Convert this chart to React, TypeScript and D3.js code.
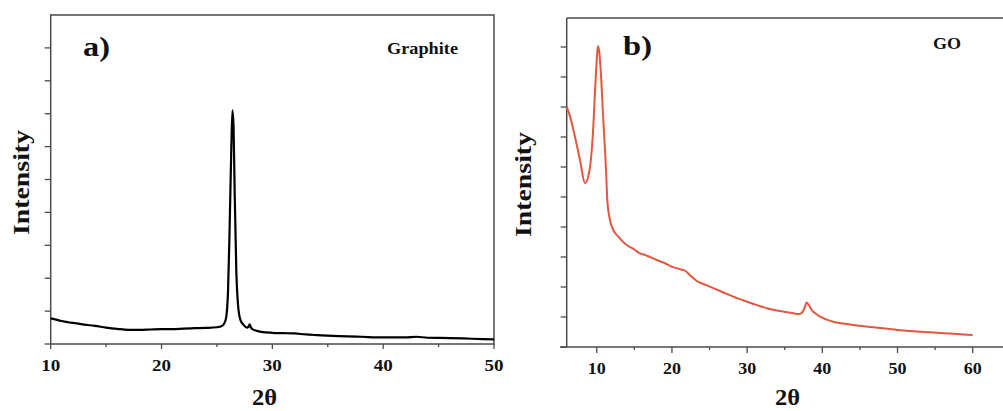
import React from "react";
import * as d3 from "d3";

const graphiteX = [10, 11, 12, 13, 14, 15, 16, 17, 18, 19, 20, 21, 22, 23, 24, 25, 25.5, 25.8, 26.0, 26.15, 26.3, 26.4, 26.5, 26.6, 26.75, 26.9, 27.1, 27.4, 27.7, 27.85, 27.95, 28.05, 28.2, 28.6, 29, 30, 31, 32, 33, 34, 36, 38, 40, 42, 43, 44, 46, 48, 50];
const graphiteY = [0.78, 0.7, 0.64, 0.59, 0.55, 0.5, 0.46, 0.43, 0.43, 0.44, 0.45, 0.45, 0.47, 0.48, 0.49, 0.51, 0.56, 0.75, 1.6, 3.6, 6.0, 7.1, 6.6, 4.6, 2.2, 1.2, 0.75, 0.58, 0.5, 0.52, 0.6, 0.52, 0.45, 0.4, 0.37, 0.34, 0.33, 0.32, 0.29, 0.27, 0.24, 0.22, 0.2, 0.2, 0.22, 0.19, 0.18, 0.16, 0.14];

const goX = [6, 6.45, 7.1, 7.77, 8.44, 9.0, 9.46, 9.8, 10.0, 10.16, 10.35, 10.52, 10.87, 11.23, 11.4, 11.76, 12.2, 12.86, 13.98, 15.0, 15.75, 16.5, 17.97, 19.0, 19.96, 21.0, 21.7, 22.3, 23.3, 24.5, 25.5, 27.0, 28.15, 30, 31.5, 32.6, 34.8, 36.0, 37.0, 37.4, 37.7, 37.9, 38.2, 38.6, 39.2, 39.7, 40.5, 41.45, 42.8, 44.1, 46.8, 50, 52.5, 54.8, 57.5, 60];
const goY = [8.01, 7.68, 7.01, 6.23, 5.46, 5.84, 7.01, 8.68, 9.6, 10.03, 9.8, 9.23, 7.57, 5.9, 4.9, 4.23, 3.9, 3.68, 3.4, 3.25, 3.12, 3.06, 2.9, 2.8, 2.68, 2.6, 2.55, 2.42, 2.2, 2.07, 1.96, 1.8, 1.68, 1.51, 1.38, 1.29, 1.18, 1.13, 1.1, 1.18, 1.35, 1.48, 1.4, 1.23, 1.1, 1.01, 0.92, 0.84, 0.78, 0.73, 0.66, 0.57, 0.52, 0.48, 0.44, 0.4];

const aXTicks = [10, 20, 30, 40, 50];
const bXTicks = [10, 20, 30, 40, 50, 60];

const FONT = "'Liberation Serif', 'DejaVu Serif', serif";
const AXIS = "#4a4a4a";

export default function App() {
  const ax = d3.scaleLinear().domain([10, 50]).range([50.7, 494]);
  const ay = d3.scaleLinear().domain([0, 10]).range([344, 15]);
  const bx = d3.scaleLinear().domain([6, 60]).range([566.7, 972.7]);
  const by = d3.scaleLinear().domain([0, 11]).range([347, 17]);

  const aLine = d3.line<number>().x((d, i) => ax(graphiteX[i])).y((d) => ay(d)).curve(d3.curveMonotoneX);
  const bLine = d3.line<number>().x((d, i) => bx(goX[i])).y((d) => by(d)).curve(d3.curveMonotoneX);

  const aMinor = d3.range(15, 50, 10);
  const bMinor = d3.range(15, 60, 10);
  const aYTicks = d3.range(0, 10, 1);
  const bYTicks = d3.range(0, 11, 1);

  return (
    <svg width={1003} height={411} style={{ position: "absolute", left: 0, top: 0, background: "#fff" }} fontFamily={FONT}>
      <rect width={1003} height={411} fill="#fff" />
      {/* Panel a */}
      <g>
        <rect x={ax(10)} y={ay(10)} width={ax(50) - ax(10)} height={ay(0) - ay(10)} fill="none" stroke={AXIS} strokeWidth={1.5} />
        {aYTicks.map((t) => (
          <line key={"ay" + t} x1={ax(10) - 6} x2={ax(10)} y1={ay(t)} y2={ay(t)} stroke={AXIS} strokeWidth={1.3} />
        ))}
        {aXTicks.map((t) => (
          <g key={"ax" + t}>
            <line x1={ax(t)} x2={ax(t)} y1={ay(0)} y2={ay(0) + 5} stroke={AXIS} strokeWidth={1.3} />
            <text x={ax(t) - 9.5} y={371} fontSize={16} fontWeight="bold" fill="#111" textLength={19} lengthAdjust="spacingAndGlyphs">{t}</text>
          </g>
        ))}
        {aMinor.map((t) => (
          <line key={"axm" + t} x1={ax(t)} x2={ax(t)} y1={ay(0)} y2={ay(0) + 3} stroke={AXIS} strokeWidth={1.3} />
        ))}
        <path d={aLine(graphiteY) || ""} fill="none" stroke="#000" strokeWidth={2.2} strokeLinejoin="round" />
        <text x={83} y={56} fontSize={28} fontWeight="bold" fill="#111" textLength={27} lengthAdjust="spacingAndGlyphs">a)</text>
        <text x={387} y={54} fontSize={16} fontWeight="bold" fill="#111" textLength={71} lengthAdjust="spacingAndGlyphs">Graphite</text>
        <text transform="translate(29,235) rotate(-90)" fontSize={23} fontWeight="bold" fill="#111" textLength={105} lengthAdjust="spacingAndGlyphs">Intensity</text>
        <text x={252} y={405} fontSize={23} fontWeight="bold" fill="#111" textLength={25} lengthAdjust="spacingAndGlyphs">2θ</text>
      </g>
      {/* Panel b */}
      <g>
        <line x1={bx(6)} x2={1003} y1={18} y2={18} stroke={AXIS} strokeWidth={1.5} />
        <line x1={bx(6)} x2={bx(6)} y1={18} y2={by(0)} stroke={AXIS} strokeWidth={1.5} />
        <line x1={560} x2={1003} y1={by(0)} y2={by(0)} stroke={AXIS} strokeWidth={1.5} />
        {bYTicks.map((t) => (
          <line key={"by" + t} x1={bx(6) - 6} x2={bx(6)} y1={by(t)} y2={by(t)} stroke={AXIS} strokeWidth={1.3} />
        ))}
        {bXTicks.map((t) => (
          <g key={"bx" + t}>
            <line x1={bx(t)} x2={bx(t)} y1={by(0)} y2={by(0) + 6} stroke={AXIS} strokeWidth={1.3} />
            <text x={bx(t) - 9} y={374} fontSize={16} fontWeight="bold" fill="#111" textLength={18} lengthAdjust="spacingAndGlyphs">{t}</text>
          </g>
        ))}
        {bMinor.map((t) => (
          <line key={"bxm" + t} x1={bx(t)} x2={bx(t)} y1={by(0)} y2={by(0) + 3} stroke={AXIS} strokeWidth={1.3} />
        ))}
        <path d={bLine(goY) || ""} fill="none" stroke="#e4573f" strokeWidth={2} strokeLinejoin="round" />
        <text x={623} y={55} fontSize={28} fontWeight="bold" fill="#111" textLength={29} lengthAdjust="spacingAndGlyphs">b)</text>
        <text x={933} y={49} fontSize={16} fontWeight="bold" fill="#111" textLength={28} lengthAdjust="spacingAndGlyphs">GO</text>
        <text transform="translate(531,237) rotate(-90)" fontSize={23} fontWeight="bold" fill="#111" textLength={105} lengthAdjust="spacingAndGlyphs">Intensity</text>
        <text x={775} y={405} fontSize={23} fontWeight="bold" fill="#111" textLength={25} lengthAdjust="spacingAndGlyphs">2θ</text>
      </g>
    </svg>
  );
}
